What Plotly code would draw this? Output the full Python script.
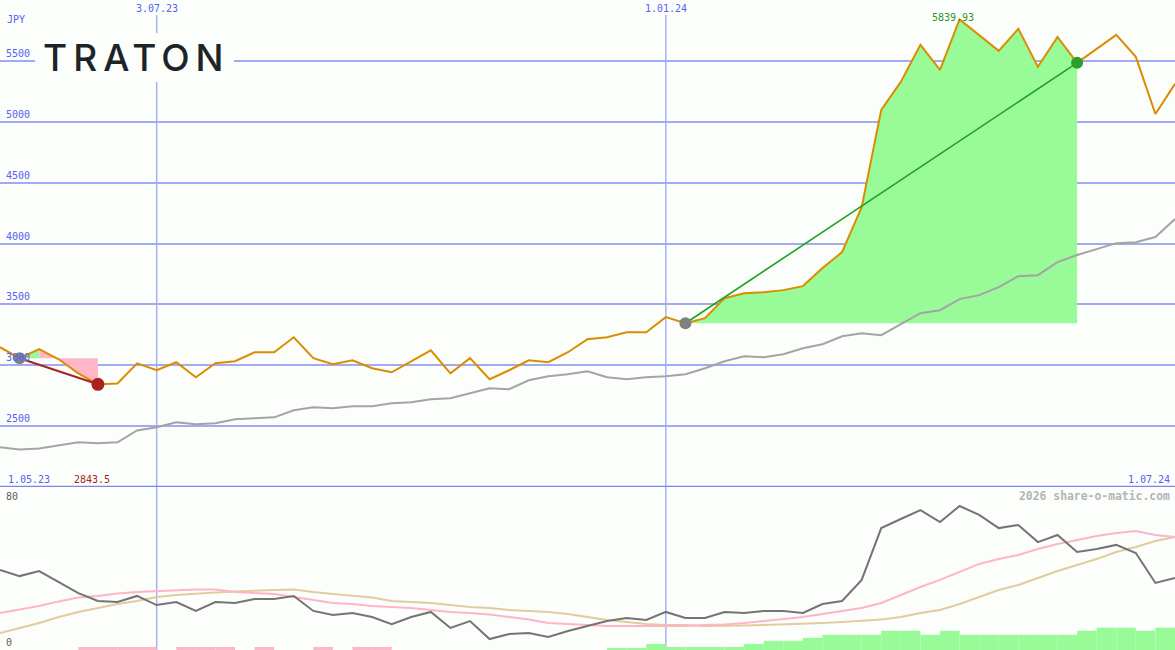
import pandas as pd
import plotly.graph_objects as go

# ---------------- data ----------------
dates = pd.date_range("2023-05-08", periods=61, freq="7D")

close = [3148, 3058, 3132, 3049, 2934, 2843.5, 2850, 3016, 2959, 3025,
         2901, 3016, 3033, 3107, 3107, 3230, 3058, 3008, 3041, 2975,
         2942, 3033, 3123, 2934, 3058, 2885, 2959, 3041, 3025, 3107,
         3214, 3230, 3271, 3271, 3395, 3345, 3387, 3551, 3592, 3600,
         3617, 3650, 3798, 3929, 4299, 5097, 5327, 5632, 5426, 5839.93,
         5714, 5582, 5763, 5451, 5697, 5484, 5599, 5714, 5533, 5064,
         5311]

moving_avg = [2326, 2309, 2317, 2342, 2367, 2359, 2367, 2465, 2490, 2531,
              2515, 2523, 2556, 2564, 2572, 2630, 2655, 2646, 2663, 2663,
              2688, 2696, 2720, 2729, 2770, 2811, 2803, 2877, 2910, 2926,
              2951, 2901, 2885, 2901, 2910, 2926, 2975, 3033, 3074, 3066,
              3090, 3140, 3173, 3238, 3263, 3247, 3337, 3428, 3452, 3543,
              3576, 3641, 3732, 3740, 3847, 3905, 3954, 4003, 4011, 4053,
              4201]

oscillator = [39.5, 36.5, 39.0, 33.6, 28.1, 24.2, 23.7, 26.7, 22.2, 23.7,
              19.3, 23.7, 23.2, 25.2, 25.2, 26.7, 19.3, 17.3, 18.3, 16.3,
              12.8, 16.3, 18.8, 10.9, 14.3, 5.4, 7.9, 8.4, 6.4, 9.4,
              11.9, 14.3, 15.8, 14.8, 18.8, 15.8, 15.8, 18.8, 18.3, 19.3,
              19.3, 18.3, 22.7, 24.2, 34.6, 60.2, 64.7, 69.1, 63.2, 71.1,
              66.7, 60.2, 61.7, 53.3, 56.8, 48.4, 49.9, 51.9, 47.9, 33.1,
              35.6]

osc_fast = [18.3, 20.0, 21.7, 24.0, 25.9, 26.7, 27.9, 28.6, 29.1, 29.6,
            29.9, 29.9, 28.6, 28.1, 27.7, 26.2, 24.7, 23.2, 22.7, 21.7,
            21.2, 20.7, 19.8, 18.8, 18.3, 17.5, 16.3, 15.1, 13.3, 12.8,
            12.3, 11.9, 11.9, 11.9, 11.9, 11.9, 12.3, 12.6, 13.3, 14.3,
            15.3, 16.3, 17.8, 19.3, 20.7, 23.2, 27.2, 31.1, 34.6, 38.5,
            42.5, 44.9, 46.9, 49.9, 52.3, 54.3, 56.3, 57.8, 58.8, 56.8,
            55.8]

osc_slow = [8.4, 10.9, 13.3, 16.3, 18.8, 20.7, 22.7, 24.2, 26.2, 27.2,
            27.9, 28.4, 28.9, 29.1, 29.6, 29.9, 28.6, 27.7, 26.7, 25.9,
            24.2, 23.7, 23.2, 22.2, 21.2, 20.7, 19.8, 19.3, 18.8, 17.8,
            16.3, 14.8, 13.8, 12.8, 12.3, 12.3, 11.9, 11.9, 12.1, 12.3,
            12.6, 12.8, 13.3, 13.8, 14.3, 15.1, 16.3, 18.3, 19.8, 22.7,
            26.2, 29.6, 32.1, 35.6, 39.0, 42.0, 44.9, 48.4, 50.9, 53.8,
            55.8]

histogram = [0, 0, 0, 0, -1.5, -1.5, -1.5, -1.5, 0, -1.5,
             -1.5, -1.5, 0, -1.5, 0, 0, -1.5, 0, -1.5, -1.5,
             0, 0, 0, 0, 0, 0, 0, 0, 0, 0,
             0, 1, 1, 3, 1.5, 1.5, 1.5, 1.5, 3, 4.5,
             4.5, 6, 7.5, 7.5, 7.5, 9.5, 9.5, 7.5, 9.5, 7.5,
             7.5, 7.5, 7.5, 7.5, 7.5, 9.5, 11, 11, 9.5, 11,
             11]

price_ticks = [2500, 3000, 3500, 4000, 4500, 5000, 5500]
osc_ticks = [80, 0]
date_marks = ["2023-07-03", "2024-01-01"]
date_mark_labels = ["3.07.23", "1.01.24"]
range_labels = ["1.05.23", "1.07.24"]
currency = "JPY"
company = "TRATON"
credit = "2026 share-o-matic.com"
loss_trade = [1, 5]     # entry index, exit index
gain_trade = [35, 55]

# ---------------- style ----------------
W, H = 1175, 650
BG = "#fbfefb"
GRID = "#a2aaf2"
VLINE = "#a8b2f8"
SEP = "#7a86ee"
BLUE_TXT = "#5860f0"
ORANGE = "#dc8c00"
MONO = "DejaVu Sans Mono"

main_bottom_px = 487
lower_top_px = 488

fig = go.Figure()

# ----- lower panel -----
week_ms = 7 * 24 * 3600 * 1000
fig.add_trace(go.Bar(
    x=dates, y=[abs(v) for v in histogram],
    marker=dict(color=["#98fb98" if v >= 0 else "#ffb6c8" for v in histogram],
                line=dict(width=0)),
    offset=0, width=week_ms, yaxis="y2", hoverinfo="skip", showlegend=False))
fig.add_trace(go.Scatter(x=dates, y=osc_slow, mode="lines", yaxis="y2",
                         line=dict(color="#e2cc9c", width=2), showlegend=False))
fig.add_trace(go.Scatter(x=dates, y=osc_fast, mode="lines", yaxis="y2",
                         line=dict(color="#ffb4c8", width=2), showlegend=False))
fig.add_trace(go.Scatter(x=dates, y=oscillator, mode="lines", yaxis="y2",
                         line=dict(color="#747474", width=2), showlegend=False))

# ----- trade fills -----
def fill_poly(i0, i1, level, color):
    xs = list(dates[i0:i1 + 1]) + [dates[i1], dates[i0]]
    ys = list(close[i0:i1 + 1]) + [level, level]
    fig.add_trace(go.Scatter(x=xs, y=ys, mode="lines", fill="toself",
                             fillcolor=color, line=dict(width=0),
                             hoverinfo="skip", showlegend=False))

le, lx = loss_trade
ge, gx = gain_trade
fill_poly(le, le + 1, close[le], "#98fb98")
fill_poly(le + 1, lx, close[le], "#ffb6c8")
fill_poly(ge, gx, close[ge], "#98fb98")

# ----- price lines -----
fig.add_trace(go.Scatter(x=dates, y=moving_avg, mode="lines",
                         line=dict(color="#a4a4a4", width=2), showlegend=False))
fig.add_trace(go.Scatter(x=dates, y=close, mode="lines",
                         line=dict(color=ORANGE, width=2), showlegend=False))

# ----- trades -----
fig.add_trace(go.Scatter(x=[dates[le], dates[lx]], y=[close[le], close[lx]], mode="lines",
                         line=dict(color="#a82222", width=2), showlegend=False))
fig.add_trace(go.Scatter(x=[dates[ge], dates[gx]], y=[close[ge], close[gx]], mode="lines",
                         line=dict(color="#22a022", width=1.6), showlegend=False))
fig.add_trace(go.Scatter(x=[dates[le], dates[ge]], y=[close[le], close[ge]], mode="markers",
                         marker=dict(color="#808080", size=12), showlegend=False))
fig.add_trace(go.Scatter(x=[dates[lx]], y=[close[lx]], mode="markers",
                         marker=dict(color="#a82222", size=13), showlegend=False))
fig.add_trace(go.Scatter(x=[dates[gx]], y=[close[gx]], mode="markers",
                         marker=dict(color="#2a9f2a", size=12), showlegend=False))

# ----- layout -----
fig.update_layout(
    width=W, height=H, margin=dict(l=0, r=0, t=0, b=0),
    paper_bgcolor=BG, plot_bgcolor=BG, showlegend=False,
    xaxis=dict(type="date", range=[dates[0], dates[-1]], showgrid=False,
               showticklabels=False, zeroline=False, showline=False, anchor="y2"),
    yaxis=dict(domain=[(H - main_bottom_px) / H, 1], range=[2000, 6000],
               tickvals=price_ticks, showticklabels=False, gridcolor=GRID,
               gridwidth=2, zeroline=False, showline=False),
    yaxis2=dict(domain=[0, (H - lower_top_px) / H], range=[0, 80], showgrid=False,
                showticklabels=False, zeroline=False, showline=False),
)

shapes = []
for d in date_marks:
    shapes.append(dict(type="line", xref="x", yref="paper", x0=d, x1=d,
                       y0=0, y1=1 - 15 / H, line=dict(color=VLINE, width=1.5),
                       layer="below"))
shapes.append(dict(type="line", xref="paper", yref="y", x0=0, x1=1, y0=2000, y1=2000,
                   line=dict(color=SEP, width=2.5), layer="above"))
shapes.append(dict(type="rect", xref="paper", yref="paper",
                   x0=35 / W, x1=234 / W, y0=1 - 82 / H, y1=1 - 33 / H,
                   fillcolor=BG, line=dict(width=0), layer="above"))
fig.update_layout(shapes=shapes)

ann = []
def A(text, x, y, color, xanchor="left", yanchor="middle", size=10, xref="paper",
      yref="paper", family=MONO, **kw):
    ann.append(dict(text=text, x=x, y=y, xref=xref, yref=yref, xanchor=xanchor,
                    yanchor=yanchor, showarrow=False,
                    font=dict(family=family, size=size, color=color), **kw))

A(currency, 5 / W, 1 - 19 / H, BLUE_TXT)
for t in price_ticks:
    A(str(t), 4 / W, t, BLUE_TXT, yref="y", yanchor="bottom", yshift=0)
for d, lab in zip(date_marks, date_mark_labels):
    A(lab, d, 1 - 9 / H, BLUE_TXT, xref="x", xanchor="center")
A(range_labels[0], 6 / W, 1 - 479 / H, BLUE_TXT)
A(range_labels[1], 1172 / W, 1 - 479 / H, BLUE_TXT, xanchor="right")
A(f"{close[lx]}", dates[lx], 1 - 479 / H, "#a82222", xref="x", xanchor="center", xshift=-6)
peak = max(close)
pi = close.index(peak)
A(f"{peak:.2f}", dates[pi], peak, "#2a962a", xref="x", yref="y", xanchor="center",
  yanchor="bottom", xshift=-7, yshift=-6)
A(credit, 1172 / W, 1 - 496 / H, "#b4b4b4", xanchor="right", size=11.4,
  family="DejaVu Sans Mono")
ann[-1]["font"]["weight"] = "bold"
A(str(osc_ticks[0]), 4 / W, 1 - 496 / H, "#606060")
A(str(osc_ticks[1]), 4 / W, 1 - 642 / H, "#606060")
A(f'<span style="letter-spacing:6px">{company}</span>', 136 / W, 1 - 58 / H, "#1e2328",
  xanchor="center", size=37, family="Inter")
ann[-1]["font"]["weight"] = 500
fig.update_layout(annotations=ann)

fig.write_html("out.html", config={"displayModeBar": False},
               post_script="document.body.style.margin='0';document.body.style.overflow='hidden';")
